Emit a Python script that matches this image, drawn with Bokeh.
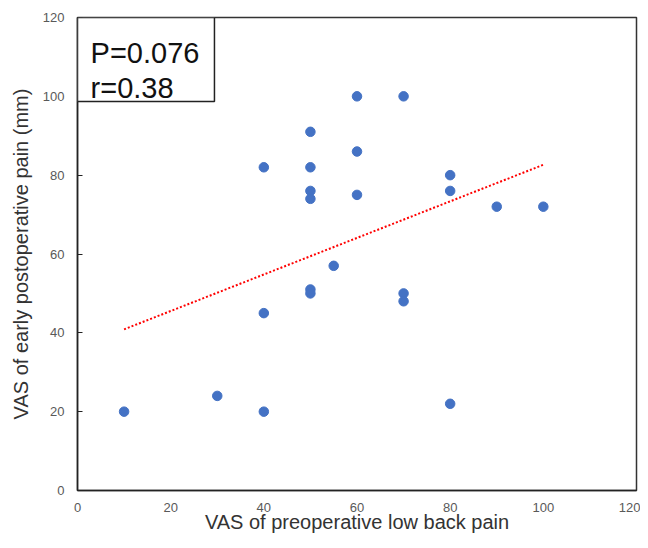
import numpy as np
from bokeh.plotting import figure
from bokeh.models import Range1d, FixedTicker, BoxAnnotation, Label
from bokeh.embed import file_html
from bokeh.resources import INLINE

# Data
preop_vas = [10, 30, 40, 40, 40, 50, 50, 50, 50, 50, 50, 55, 60, 60, 60, 70, 70, 70, 80, 80, 80, 90, 100]
postop_vas = [20, 24, 20, 45, 82, 91, 82, 76, 74, 51, 50, 57, 100, 86, 75, 100, 50, 48, 80, 76, 22, 72, 72]
tick_values = [0, 20, 40, 60, 80, 100, 120]
stats_lines = ["P=0.076", "r=0.38"]

FONT = "Liberation Sans"

p = figure(width=640, height=540, output_backend="svg", toolbar_location=None,
           x_range=Range1d(0, 120), y_range=Range1d(0, 120),
           min_border_left=77, min_border_right=4, min_border_top=17, min_border_bottom=50)

p.xgrid.visible = False
p.ygrid.visible = False
p.outline_line_color = "#333333"
p.outline_line_width = 1.5
p.background_fill_color = "white"
p.border_fill_color = "white"

for ax in (p.xaxis[0], p.yaxis[0]):
    ax.ticker = FixedTicker(ticks=tick_values)
    ax.axis_line_color = "#222222"
    ax.axis_line_width = 1.5
    ax.major_label_text_font = FONT
    ax.major_label_text_font_size = "13px"
    ax.major_label_text_color = "#595959"
    ax.axis_label_text_font = FONT
    ax.axis_label_text_font_size = "20px"
    ax.axis_label_text_font_style = "normal"
    ax.axis_label_text_color = "#333333"
    ax.minor_tick_line_color = None

p.xaxis.axis_label = "VAS of preoperative low back pain"
p.yaxis.axis_label = "VAS of early postoperative pain (mm)"
p.xaxis.major_tick_line_color = None
p.xaxis.major_label_standoff = 6
p.xaxis.axis_label_standoff = -4
p.yaxis.major_tick_in = 5
p.yaxis.major_tick_out = 0
p.yaxis.major_tick_line_color = "#222222"
p.yaxis.major_label_standoff = 13
p.yaxis.axis_label_standoff = 8

# Trend line (least squares from the data)
slope, intercept = np.polyfit(preop_vas, postop_vas, 1)
xs = [min(preop_vas), max(preop_vas)]
ys = [slope * x + intercept for x in xs]
p.line(xs, ys, line_color="#FF0000", line_width=2, line_dash="2 2")

p.scatter(preop_vas, postop_vas, size=9.5, fill_color="#4472C4", line_color="#4472C4")

# Stats box
box = BoxAnnotation(left=0, right=29.4, bottom=98.7, top=120,
                    fill_color="white", fill_alpha=1.0,
                    line_color="#222222", line_alpha=1.0, line_width=1.5)
p.add_layout(box)
p.add_layout(Label(x=2.8, y=110.9, text=stats_lines[0], text_font=FONT,
                   text_font_size="29px", text_color="#111111", text_baseline="alphabetic"))
p.add_layout(Label(x=2.8, y=102.0, text=stats_lines[1], text_font=FONT,
                   text_font_size="29px", text_color="#111111", text_baseline="alphabetic"))

open("out.html", "w").write(file_html(p, INLINE))
